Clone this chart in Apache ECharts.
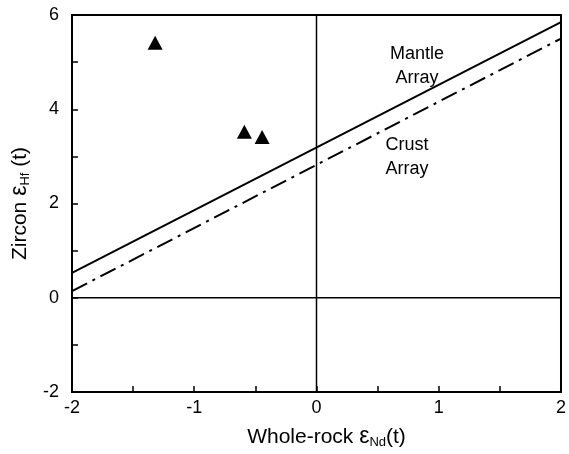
<!DOCTYPE html>
<html>
<head>
<meta charset="utf-8">
<script src="https://cdn.jsdelivr.net/npm/echarts@6/dist/echarts.min.js"></script>
<style>
  html, body { margin: 0; padding: 0; background: #fff; }
  #chart { width: 569px; height: 454px; }
</style>
</head>
<body>
<div id="chart"></div>
<script>
// Zircon samples: whole-rock εNd(t) vs zircon εHf(t)
const sampleNd = [-1.32, -0.59, -0.445];
const sampleHf = [5.41, 3.52, 3.41];

// Reference arrays: εHf = slope * εNd + intercept
const mantleArray = { slope: 1.33, intercept: 3.19 };
const crustArray = { slope: 1.34, intercept: 2.82 };

const xRange = [-2, 2];
const yRange = [-2, 6];

const FONT = 'Liberation Sans, Arial, sans-serif';

function arrayLine(a) {
  return xRange.map(x => [x, a.slope * x + a.intercept]);
}

const chart = echarts.init(document.getElementById('chart'), null, { renderer: 'canvas' });

const tickStyle = { show: true, inside: true, length: 6, lineStyle: { color: '#000', width: 1.5 } };
const minorStyle = { show: true, splitNumber: 2, length: 6, lineStyle: { color: '#000', width: 1.5 } };

const nameStyle = {
  color: '#000', fontSize: 21, fontFamily: FONT,
  rich: {
    eps: { fontSize: 23, fontFamily: FONT, color: '#000' },
    sub: { fontSize: 13, fontFamily: FONT, color: '#000', padding: [11, 0, 0, 0] }
  }
};

chart.setOption({
  animation: false,
  backgroundColor: '#fff',
  grid: {
    left: 72, right: 4, top: 15, bottom: 60,
    show: true, borderColor: '#000', borderWidth: 2, backgroundColor: 'transparent'
  },
  xAxis: {
    type: 'value', min: xRange[0], max: xRange[1], interval: 1,
    axisLine: { show: true, onZero: false, lineStyle: { color: '#000', width: 2 } },
    axisTick: tickStyle,
    minorTick: minorStyle,
    splitLine: { show: false },
    axisLabel: { color: '#000', fontSize: 18, fontFamily: FONT, margin: 7 },
    name: 'Whole-rock {eps|ε}{sub|Nd}(t)',
    nameLocation: 'middle',
    nameGap: 33,
    nameTextStyle: Object.assign({ padding: [0, 0, 0, 20] }, nameStyle)
  },
  yAxis: {
    type: 'value', min: yRange[0], max: yRange[1], interval: 2,
    axisLine: { show: true, onZero: false, lineStyle: { color: '#000', width: 2 } },
    axisTick: tickStyle,
    minorTick: minorStyle,
    splitLine: { show: false },
    axisLabel: { color: '#000', fontSize: 18, fontFamily: FONT, margin: 13 },
    name: 'Zircon {eps|ε}{sub|Hf} (t)',
    nameLocation: 'middle',
    nameRotate: 90,
    nameGap: 39,
    nameTextStyle: nameStyle
  },
  series: [
    {
      type: 'line', name: 'zero-x', data: [[0, yRange[0]], [0, yRange[1]]],
      symbol: 'none', lineStyle: { color: '#000', width: 1.5 }, silent: true
    },
    {
      type: 'line', name: 'zero-y', data: [[xRange[0], 0], [xRange[1], 0]],
      symbol: 'none', lineStyle: { color: '#000', width: 1.5 }, silent: true
    },
    {
      type: 'line', name: 'Mantle Array', data: arrayLine(mantleArray),
      symbol: 'none', lineStyle: { color: '#000', width: 2 }
    },
    {
      type: 'line', name: 'Crust Array', data: arrayLine(crustArray),
      symbol: 'none', lineStyle: { color: '#000', width: 2, type: [17, 6, 3, 6] }
    },
    {
      type: 'scatter', name: 'Zircon',
      data: sampleNd.map((x, i) => [x, sampleHf[i]]),
      symbol: 'triangle', symbolSize: [15, 14],
      itemStyle: { color: '#000', opacity: 1 }
    }
  ],
  graphic: [
    {
      type: 'text', x: 417, y: 42,
      style: { text: 'Mantle\nArray', fill: '#000', font: '18px ' + FONT, textAlign: 'center', lineHeight: 24 }
    },
    {
      type: 'text', x: 407, y: 133,
      style: { text: 'Crust\nArray', fill: '#000', font: '18px ' + FONT, textAlign: 'center', lineHeight: 24 }
    }
  ]
});
</script>
</body>
</html>
